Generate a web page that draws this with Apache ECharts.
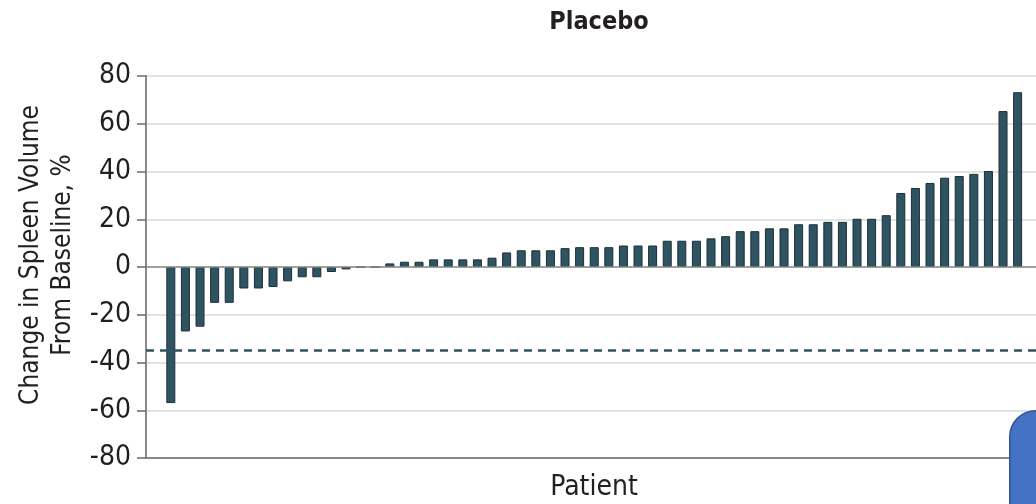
<!DOCTYPE html>
<html>
<head>
<meta charset="utf-8">
<script src="https://cdn.jsdelivr.net/npm/echarts@6/dist/echarts.min.js"></script>
<style>
html,body{margin:0;padding:0;background:#fff;}
#chart{width:1036px;height:504px;}
</style>
</head>
<body>
<div id="chart"></div>
<script>
// Patient identifiers (ordered by change)
var patients = [1,2,3,4,5,6,7,8,9,10,11,12,13,14,15,16,17,18,19,20,
  21,22,23,24,25,26,27,28,29,30,31,32,33,34,35,36,37,38,39,40,
  41,42,43,44,45,46,47,48,49,50,51,52,53,54,55,56,57,58,59];
// Change in spleen volume from baseline, %
var changes = [-57,-27,-25,-15,-15,-9,-9,-8.4,-6,-4.3,-4.3,-2.1,-1,0,0,
  1.5,2.2,2.2,3.2,3.2,3.2,3.2,3.9,6.1,7.0,7.0,7.0,7.9,8.3,8.3,8.3,9.0,9.0,9.0,
  11.0,11.0,11.0,12.0,12.9,15.0,15.0,16.2,16.2,17.9,17.9,18.9,18.9,20.2,20.2,21.7,
  31.0,33.1,35.2,37.4,38.1,39.0,40.2,65.3,73.2];
var yTicks = [-80,-60,-40,-20,0,20,40,60,80];
var threshold = -35;

var FONT = '"Liberation Sans Narrow","DejaVu Sans Condensed","Liberation Sans",sans-serif';
var BAR = '#2e5462';

var chart = echarts.init(document.getElementById('chart'), null, {renderer:'canvas'});
chart.setOption({
  animation:false,
  title:{
    text:'Placebo', left:594, top:5, textAlign:'center',
    textStyle:{fontFamily:FONT, fontWeight:'bold', fontSize:25, color:'#231f20'}
  },
  grid:{left:146, right:-6, top:76, bottom:46, containLabel:false, outerBoundsMode:'none'},
  xAxis:{
    type:'value', min:-0.7, max:60.67,
    name:'Patient', nameLocation:'middle', nameGap:16,
    nameTextStyle:{fontFamily:FONT, fontSize:28, color:'#231f20'},
    axisLine:{show:true, onZero:false, lineStyle:{color:'#8a8a8a', width:2}},
    axisTick:{show:false}, axisLabel:{show:false}, splitLine:{show:false}
  },
  yAxis:{
    type:'value', min:yTicks[0], max:yTicks[yTicks.length-1], interval:20,
    name:'Change in Spleen Volume\nFrom Baseline, %',
    nameLocation:'middle', nameGap:47,
    nameTextStyle:{fontFamily:FONT, fontSize:26, color:'#231f20', lineHeight:32, padding:[0,0,0,24]},
    axisLine:{show:true, onZero:false, lineStyle:{color:'#8a8a8a', width:2}},
    axisTick:{show:true, inside:false, length:9, lineStyle:{color:'#6a6a6a', width:1.5}},
    axisLabel:{fontFamily:FONT, fontSize:28, color:'#231f20', margin:15},
    splitLine:{show:true, lineStyle:{color:'#e2e2e2', width:2}}
  },
  series:[{
    type:'bar',
    barWidth:9,
    data:patients.map(function(p,i){return [p, changes[i]];}),
    itemStyle:{color:BAR, borderColor:'#1b2f36', borderWidth:1},
    markLine:{
      silent:true, symbol:['none','none'], label:{show:false},
      data:[
        {yAxis:0, lineStyle:{color:'#8a8a8a', width:1.5, type:'solid'}},
        {yAxis:threshold, lineStyle:{color:BAR, width:2.5, type:[8,6]}}
      ]
    }
  }],
  graphic:[{
    type:'rect', left:1009, top:410, z:100,
    shape:{width:60, height:120, r:[26,0,0,0]},
    style:{fill:'#4472c4', stroke:'#2f5597', lineWidth:1.5}
  }]
});
</script>
</body>
</html>
